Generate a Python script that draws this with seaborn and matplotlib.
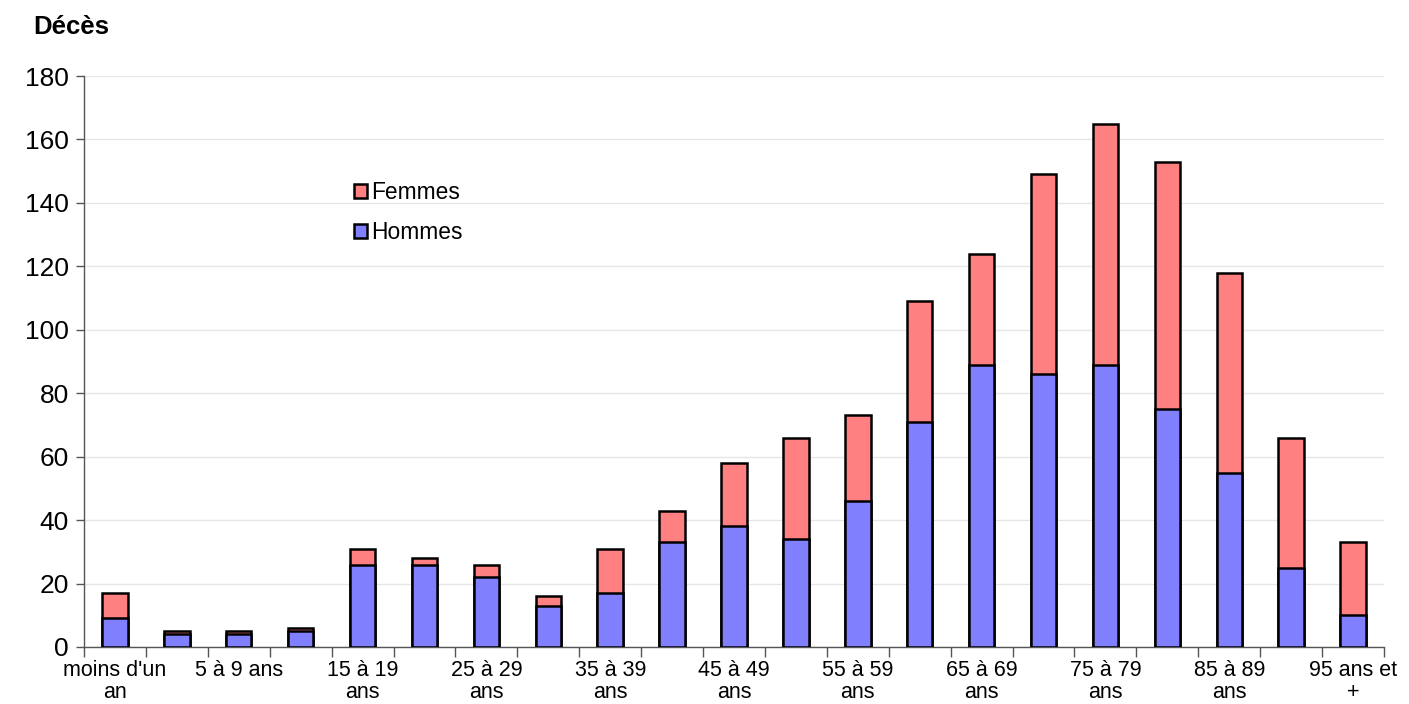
import numpy as np
import pandas as pd
import matplotlib
matplotlib.use('Agg')
import matplotlib.pyplot as plt
import seaborn as sb

categories = ["moins d'un\nan", "1 à 4 ans", "5 à 9 ans", "10 à 14 ans", "15 à 19\nans",
              "20 à 24\nans", "25 à 29\nans", "30 à 34\nans", "35 à 39\nans", "40 à 44\nans",
              "45 à 49\nans", "50 à 54\nans", "55 à 59\nans", "60 à 64\nans", "65 à 69\nans",
              "70 à 74\nans", "75 à 79\nans", "80 à 84\nans", "85 à 89\nans", "90 à 94\nans",
              "95 ans et\n+"]
hommes = [9, 4, 4, 5, 26, 26, 22, 13, 17, 33, 38, 34, 46, 71, 89, 86, 89, 75, 55, 25, 10]
femmes = [8, 1, 1, 1, 5, 2, 4, 3, 14, 10, 20, 32, 27, 38, 35, 63, 76, 78, 63, 41, 23]

sb.set_style("white")
plt.rcParams['font.family'] = ['Liberation Sans', 'DejaVu Sans']
plt.rcParams['text.color'] = 'black'
plt.rcParams['xtick.color'] = 'black'
plt.rcParams['ytick.color'] = 'black'

df = pd.DataFrame({'age': categories, 'Hommes': hommes, 'Femmes': femmes})
df['total'] = df['Hommes'] + df['Femmes']

fig = plt.figure(figsize=(14.09, 7.04), dpi=100)
ax = fig.add_axes([84/1409, 1 - 647/704, 1300/1409, 571/704])

sb.barplot(data=df, x='age', y='total', color='#FF8080', saturation=1, width=0.41,
           edgecolor='black', linewidth=1.8, ax=ax, label='Femmes', zorder=3)
sb.barplot(data=df, x='age', y='Hommes', color='#8080FF', saturation=1, width=0.41,
           edgecolor='black', linewidth=1.8, ax=ax, label='Hommes', zorder=3)

ax.set_ylim(0, 180)
ax.set_xlim(-0.5, len(categories) - 0.5)
ax.set_yticks(range(0, 181, 20))
ax.yaxis.grid(True, color='#e6e6e6', linewidth=1, zorder=0)
ax.set_axisbelow(True)
ax.tick_params(axis='y', labelsize=19, length=6, width=1, color='#555555', left=True,
               direction='out', pad=5, labelcolor='black')

ax.set_xticks(range(0, len(categories), 2))
ax.set_xticklabels([categories[i] for i in range(0, len(categories), 2)])
ax.tick_params(axis='x', which='major', length=0, pad=9, labelsize=15.5, labelcolor='black')
ax.set_xticks(np.arange(-0.5, len(categories), 1), minor=True)
ax.tick_params(axis='x', which='minor', length=7, width=1, color='#555555', bottom=True,
               direction='out')
for lbl in ax.get_xticklabels():
    lbl.set_linespacing(1.1)

for s in ['top', 'right']:
    ax.spines[s].set_visible(False)
for s in ['left', 'bottom']:
    ax.spines[s].set_color('#555555')
    ax.spines[s].set_linewidth(1)

ax.set_xlabel('')
ax.set_ylabel('')
fig.text(33/1409, 1 - 27/704, 'Décès', fontsize=18.5, fontweight='bold', va='center')

handles, labels = ax.get_legend_handles_labels()
leg = ax.legend(handles, labels, loc='upper left', bbox_to_anchor=(261/1300, (647 - 172)/571),
                frameon=False, fontsize=16.4, handlelength=0.55, handleheight=0.55,
                handletextpad=0.2, labelspacing=0.75, borderaxespad=0)

fig.savefig('out.png', dpi=100)
